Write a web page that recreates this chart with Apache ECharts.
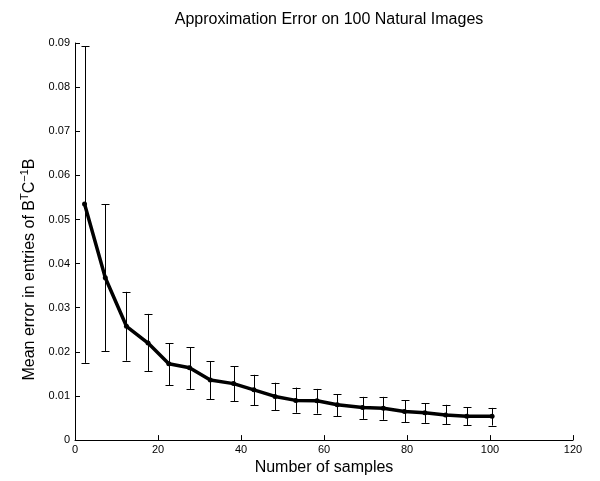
<!DOCTYPE html>
<html>
<head>
<meta charset="utf-8">
<script src="https://cdn.jsdelivr.net/npm/echarts@6/dist/echarts.min.js"></script>
<style>
html,body{margin:0;padding:0;background:#fff;}
#c{width:600px;height:481px;}
</style>
</head>
<body>
<div id="c"></div>
<script>
// Number of samples (x positions)
var samples = [2.3, 7.3, 12.4, 17.6, 22.6, 27.6, 32.6, 38.2, 43.1, 48.2, 53.2, 58.3, 63.2, 69.3, 74.3, 79.4, 84.3, 89.3, 94.4, 100.5];
// Mean error
var meanErr = [0.0535, 0.0368, 0.0258, 0.0220, 0.0173, 0.0164, 0.0136, 0.0128, 0.0114, 0.0099, 0.0090, 0.0089, 0.0080, 0.0074, 0.0072, 0.0065, 0.0062, 0.0057, 0.0054, 0.0054];
// Error bar lower ends
var errLow = [0.0175, 0.0202, 0.0180, 0.0156, 0.0124, 0.0116, 0.0093, 0.0088, 0.0079, 0.0068, 0.0062, 0.0060, 0.0054, 0.0048, 0.0046, 0.0041, 0.0039, 0.0036, 0.0034, 0.0033];
// Error bar upper ends
var errHigh = [0.0893, 0.0535, 0.0336, 0.0286, 0.0220, 0.0210, 0.0179, 0.0167, 0.0148, 0.0130, 0.0119, 0.0116, 0.0104, 0.0098, 0.0098, 0.0090, 0.0084, 0.0080, 0.0074, 0.0073];
// Tick labels
var yTickLabels = ['0', '0.01', '0.02', '0.03', '0.04', '0.05', '0.06', '0.07', '0.08', '0.09'];
var xTickLabels = ['0', '20', '40', '60', '80', '100', '120'];

var FONT = "'Liberation Sans', Arial, Helvetica, sans-serif";

var lineData = samples.map(function (x, i) { return [x, meanErr[i]]; });
var errData = samples.map(function (x, i) { return [x, errLow[i], errHigh[i]]; });

var chart = echarts.init(document.getElementById('c'), null, {renderer: 'canvas'});
chart.setOption({
  animation: false,
  backgroundColor: '#fff',
  title: {
    text: 'Approximation Error on 100 Natural Images',
    left: 324, top: 7, textAlign: 'center',
    textStyle: {fontFamily: FONT, fontSize: 16, fontWeight: 'normal', color: '#000'}
  },
  grid: {left: 75, right: 27, top: 43, bottom: 35, containLabel: false},
  xAxis: {
    type: 'value', min: 0, max: 120, interval: 20,
    name: 'Number of samples', nameLocation: 'middle', nameGap: 18,
    nameTextStyle: {fontFamily: FONT, fontSize: 16, color: '#000'},
    axisLine: {lineStyle: {color: '#000', width: 1}},
    axisTick: {inside: true, length: 5, lineStyle: {color: '#000'}},
    axisLabel: {
      fontFamily: FONT, fontSize: 11, color: '#000', margin: 4,
      formatter: function (v) { return xTickLabels[Math.round(v / 20)]; }
    },
    splitLine: {show: false}
  },
  yAxis: {
    type: 'value', min: 0, max: 0.09, interval: 0.01,
    name: '{n|Mean error in entries of B}{s|T}{n|C}{s|\u22121}{n|B}',
    nameLocation: 'middle', nameGap: 29, nameRotate: 90,
    nameTextStyle: {
      fontFamily: FONT, fontSize: 16, color: '#000',
      padding: [0, 56, 0, 0],
      rich: {
        n: {fontFamily: FONT, fontSize: 16, color: '#000', lineHeight: 20},
        s: {fontFamily: FONT, fontSize: 11, color: '#000', lineHeight: 20, verticalAlign: 'top', padding: [0, 0, 7, 0]}
      }
    },
    axisLine: {lineStyle: {color: '#000', width: 1}},
    axisTick: {inside: true, length: 5, lineStyle: {color: '#000'}},
    axisLabel: {
      fontFamily: FONT, fontSize: 11, color: '#000', margin: 5,
      formatter: function (v) { return yTickLabels[Math.round(v * 100)]; }
    },
    splitLine: {show: false}
  },
  series: [
    {
      type: 'custom',
      data: errData,
      z: 2,
      renderItem: function (params, api) {
        var x = api.value(0);
        var lo = api.coord([x, api.value(1)]);
        var hi = api.coord([x, api.value(2)]);
        var cx = Math.round(lo[0]) + 0.5;
        var cap = 4;
        var style = {stroke: '#000', lineWidth: 1, fill: null};
        return {
          type: 'group',
          children: [
            {type: 'line', shape: {x1: cx, y1: hi[1], x2: cx, y2: lo[1]}, style: style},
            {type: 'line', shape: {x1: cx - cap, y1: Math.round(hi[1]) + 0.5, x2: cx + cap, y2: Math.round(hi[1]) + 0.5}, style: style},
            {type: 'line', shape: {x1: cx - cap, y1: Math.round(lo[1]) + 0.5, x2: cx + cap, y2: Math.round(lo[1]) + 0.5}, style: style}
          ]
        };
      }
    },
    {
      type: 'line',
      data: lineData,
      z: 3,
      symbol: 'circle', symbolSize: 5,
      itemStyle: {color: '#000'},
      lineStyle: {color: '#000', width: 3.5},
      silent: true
    }
  ]
});
</script>
</body>
</html>
